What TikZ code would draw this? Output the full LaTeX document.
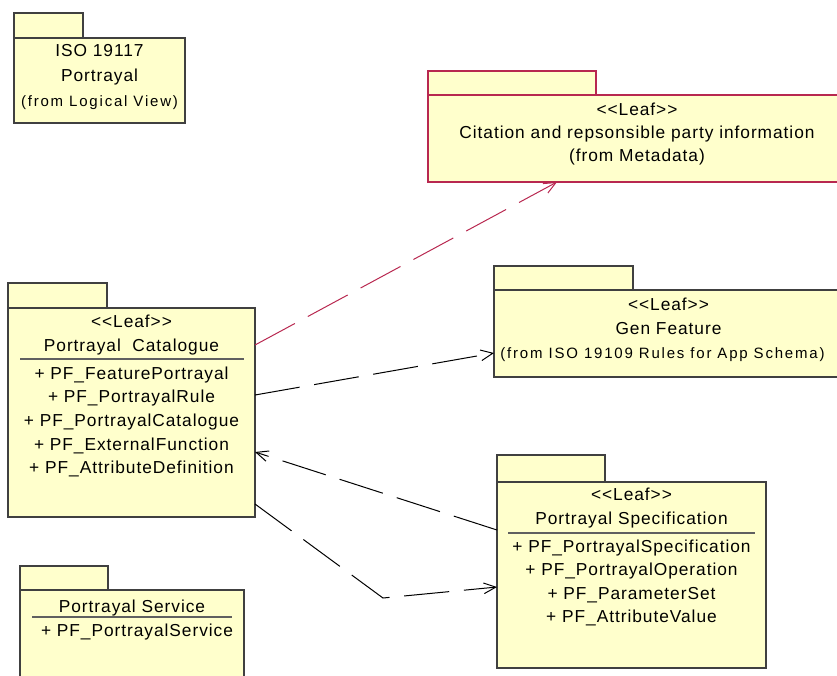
\documentclass[tikz,border=0pt]{standalone}
\usepackage{fontspec}
\setmainfont{Liberation Sans}
\newfontfamily\umlfont{Liberation Sans}[LetterSpace=5.5]
\newfontfamily\umlsmallfont{Liberation Sans}[LetterSpace=12]
\usetikzlibrary{arrows.meta}

\definecolor{pkgfill}{RGB}{255,255,204}
\definecolor{pkgline}{RGB}{64,64,64}
\definecolor{crimsonline}{RGB}{184,40,80}
\definecolor{sepline}{RGB}{96,96,96}

\tikzset{
  pkgshape/.style={draw=pkgline, fill=pkgfill, line width=0.9pt,
    inner sep=0pt, outer sep=0pt, rectangle},
  redpkg/.style={draw=crimsonline},
  lbl/.style={inner sep=0pt, anchor=base, font=\umlfont\fontsize{13}{15}\selectfont},
  smalllbl/.style={inner sep=0pt, anchor=base, font=\umlsmallfont\fontsize{11.25}{13}\selectfont},
  sepstyle/.style={draw=sepline, line width=0.8pt},
  dep/.style={draw=black, line width=0.75pt, dash pattern=on 34pt off 11pt,
    -{Straight Barb[length=9pt,width=8pt,line width=0.75pt]}},
  reddep/.style={dep, draw=crimsonline}
}

% package: tab plus body
% #1 name, #2 left, #3 tab top, #4 tab right, #5 body top, #6 body right, #7 body bottom, #8 extra style
\newcommand{\umlpackage}[8]{%
  \node[pkgshape,#8,anchor=north west,
        minimum width={(#4-#2)*0.75pt},minimum height={(#5-#3)*0.75pt}] (#1-tab) at (#2,#3) {};
  \node[pkgshape,#8,anchor=north west,
        minimum width={(#6-#2)*0.75pt},minimum height={(#7-#5)*0.75pt}] (#1) at (#2,#5) {};
}

\begin{document}
\begin{tikzpicture}[x=0.75pt,y=-0.75pt]
\useasboundingbox (0,0) rectangle (837,675);
\clip (0,0) rectangle (837,675);

% ISO 19117 Portrayal
\umlpackage{iso}{14}{13}{83}{38}{185}{123}{}
\node[lbl] (iso-a) at (99.5,56.7) {ISO 19117};
\node[lbl] (iso-b) at (99.5,81.7) {Portrayal};
\node[smalllbl] (iso-c) at (99.5,106.5) {(from Logical View)};

% Citation and responsible party information
\umlpackage{cite}{428}{71}{596}{95}{847}{182}{redpkg}
\node[lbl] (cite-a) at (637,115) {<{}<Leaf>{}>};
\node[lbl] (cite-b) at (637,138) {Citation and repsonsible party information};
\node[lbl] (cite-c) at (637,161.7) {(from Metadata)};

% Portrayal Catalogue
\umlpackage{cat}{8}{283}{107}{308}{255}{517}{}
\node[lbl] (cat-a) at (131.5,327) {<{}<Leaf>{}>};
\node[lbl] (cat-b) at (131.5,351) {Portrayal~~Catalogue};
\draw[sepstyle] (20,359) coordinate (cat-s1) -- (244,359) coordinate (cat-s2);
\node[lbl] (cat-c) at (131.5,379) {+ PF\_FeaturePortrayal};
\node[lbl] (cat-d) at (131.5,402.7) {+ PF\_PortrayalRule};
\node[lbl] (cat-e) at (131.5,426.3) {+ PF\_PortrayalCatalogue};
\node[lbl] (cat-f) at (131.5,450) {+ PF\_ExternalFunction};
\node[lbl] (cat-g) at (131.5,473.7) {+ PF\_AttributeDefinition};

% Gen Feature
\umlpackage{gen}{494}{266}{633}{290}{843}{377}{}
\node[lbl] (gen-a) at (668.5,310) {<{}<Leaf>{}>};
\node[lbl] (gen-b) at (668.5,334) {Gen Feature};
\node[smalllbl] (gen-c) at (662.5,358) {(from ISO 19109 Rules for App Schema)};

% Portrayal Specification
\umlpackage{spec}{497}{455}{605}{482}{766}{668}{}
\node[lbl] (spec-a) at (631.5,500) {<{}<Leaf>{}>};
\node[lbl] (spec-b) at (631.5,524) {Portrayal Specification};
\draw[sepstyle] (508,533) coordinate (spec-s1) -- (755,533) coordinate (spec-s2);
\node[lbl] (spec-c) at (631.5,552.3) {+ PF\_PortrayalSpecification};
\node[lbl] (spec-d) at (631.5,575.7) {+ PF\_PortrayalOperation};
\node[lbl] (spec-e) at (631.5,599.3) {+ PF\_ParameterSet};
\node[lbl] (spec-f) at (631.5,622.7) {+ PF\_AttributeValue};

% Portrayal Service
\umlpackage{serv}{20}{566}{108}{590}{244}{690}{}
\node[lbl] (serv-a) at (132,612.3) {Portrayal Service};
\draw[sepstyle] (32,617) coordinate (serv-s1) -- (232,617) coordinate (serv-s2);
\node[lbl] (serv-b) at (137,636.7) {+ PF\_PortrayalService};

% dependencies
\draw[reddep] (cat.north east |- 0,345) -- (cite.south west -| 557,0);
\draw[dep] (cat.north east |- 0,395) -- (gen.north west |- 0,353);
\draw[dep] (spec.north west |- 0,530) -- (cat.north east |- 0,452);
\coordinate (bend) at (383,598);
\draw[dep] (cat.north east |- 0,504) -- (bend) -- (spec.north west |- 0,587);
\end{tikzpicture}
\end{document}
